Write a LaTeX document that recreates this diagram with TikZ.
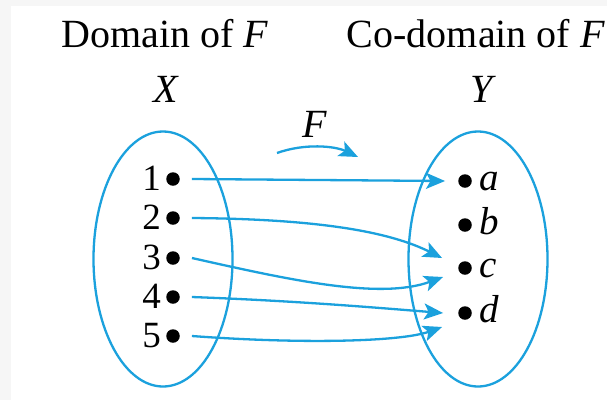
\documentclass[tikz,border=0pt]{standalone}
\usepackage{fontspec}
\setmainfont{Liberation Serif}
\usetikzlibrary{arrows.meta,shapes.geometric}
\definecolor{fblue}{RGB}{27,161,221}
\definecolor{bord}{RGB}{246,246,246}
\begin{document}
\begin{tikzpicture}[x=1pt,y=-1pt,
  conn/.style={draw=fblue, line width=2.3pt, -{Stealth[length=19pt,width=16pt,inset=4.5pt]}},
  setell/.style={draw=fblue, line width=2.3pt, ellipse, minimum width=139pt, minimum height=255pt, inner sep=0pt},
  dot/.style={circle, fill=black, inner sep=0pt, minimum size=13.5pt},
  hd/.style={anchor=base, inner sep=0pt, font=\fontsize{40}{48}\selectfont},
  num/.style={anchor=base east, inner sep=0pt, font=\fontsize{37}{44}\selectfont},
  let/.style={anchor=base west, inner sep=0pt, font=\fontsize{39}{46}\selectfont\itshape}]
\useasboundingbox (0,0) rectangle (607,400);
\fill[bord] (0,0) rectangle (607,400);
\fill[white] (11,6) rectangle (607,400);
% headings
\node[hd] (dom) at (165,47) {Domain of \textit{F}};
\node[hd] (cod) at (476,47) {Co-domain of \textit{F}};
\node[hd] (X) at (166,102) {\textit{X}};
\node[hd] (Y) at (483,102) {\textit{Y}};
\node[hd] (F) at (315,137) {\textit{F}};
% sets
\node[setell] (setX) at (163,259) {};
\node[setell] (setY) at (478,259) {};
% domain points
\node[dot] (p1) at (173,179) {};
\node[dot] (p2) at (173,218) {};
\node[dot] (p3) at (173,258) {};
\node[dot] (p4) at (173,297) {};
\node[dot] (p5) at (173,336) {};
\node[num] (n1) at (161,190) {1};
\node[num] (n2) at (161,229) {2};
\node[num] (n3) at (161,269) {3};
\node[num] (n4) at (161,308) {4};
\node[num] (n5) at (161,347) {5};
% codomain points
\node[dot] (qa) at (465,181) {};
\node[dot] (qb) at (465,225) {};
\node[dot] (qc) at (465,268) {};
\node[dot] (qd) at (465,313) {};
\node[let] (la) at (479,190) {a};
\node[let] (lb) at (479,234) {b};
\node[let] (lc) at (479,277) {c};
\node[let] (ld) at (479,322) {d};
% F arrow
\coordinate (fa) at (277,153);
\coordinate (fb) at (358,157);
\draw[conn] (fa) .. controls +(28,-10) and +(-23,-11) .. (fb);
% mappings
\draw[conn] ([xshift=12pt]p1.east) -- ([xshift=-13pt]qa.west);
\draw[conn] ([xshift=12pt]p2.east) .. controls +(128,1) and +(-52,-26) .. ([shift={(-16,-10)}]qc.west);
\draw[conn] ([xshift=12pt]p3.east) .. controls +(98,22) and +(-63,23) .. ([shift={(-15,9)}]qc.west);
\draw[conn] ([xshift=12pt]p4.east) .. controls +(108,4) and +(-63,-5) .. ([xshift=-15pt]qd.west);
\draw[conn] ([xshift=12pt]p5.east) .. controls +(108,8) and +(-42,15) .. ([shift={(-16,14)}]qd.west);
\end{tikzpicture}
\end{document}
